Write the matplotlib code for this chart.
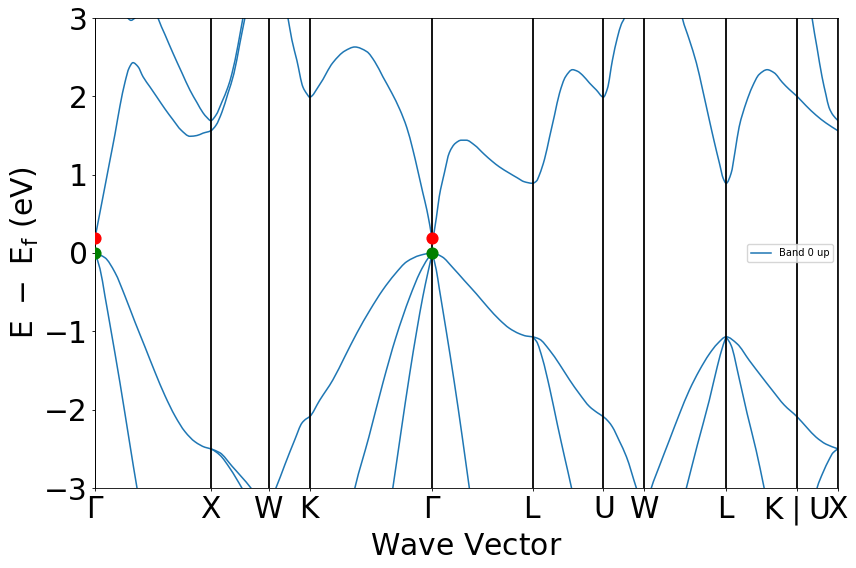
import matplotlib
matplotlib.use("Agg")
import matplotlib.pyplot as plt
from matplotlib.path import Path
from matplotlib.patches import PathPatch
from matplotlib.lines import Line2D
import numpy as np

# ---- high-symmetry path (cumulative k distance, units of 2*pi/a) ----
tick_k = [0.0, 1.0, 1.5, 1.854, 2.914, 3.780, 4.392, 4.746, 5.453, 6.065, 6.419]
tick_labels = [r"$\mathrm{\Gamma}$", r"$\mathrm{X}$", r"$\mathrm{W}$", r"$\mathrm{K}$",
               r"$\mathrm{\Gamma}$", r"$\mathrm{L}$", r"$\mathrm{U}$", r"$\mathrm{W}$",
               r"$\mathrm{L}$", r"$\mathrm{K}$$\mid$$\mathrm{U}$", r"$\mathrm{X}$"]

# ---- valence bands (k, E-Ef in eV) ----
vb_gx_k = [0.000, 0.086, 0.173, 0.259, 0.345, 0.432, 0.518, 0.604, 0.691, 0.777, 0.864, 0.950, 1.000,
           1.079, 1.166, 1.269, 1.382]
vb_gx_e = [0.00, -0.06, -0.25, -0.55, -0.88, -1.20, -1.52, -1.82, -2.08, -2.28, -2.41, -2.48, -2.50,
           -2.58, -2.75, -3.00, -3.30]
vb_xw_k = [1.000, 1.079, 1.183, 1.347, 1.442]
vb_xw_e = [-2.50, -2.55, -2.72, -3.00, -3.20]
vb_wkglu_k = [1.468, 1.563, 1.641, 1.727, 1.788, 1.822, 1.854, 1.941, 2.055, 2.159, 2.263, 2.375, 2.487,
              2.591, 2.694, 2.807, 2.914, 3.000, 3.087, 3.190, 3.294, 3.398, 3.493, 3.579, 3.665, 3.726,
              3.780, 3.840, 3.927, 4.013, 4.100, 4.186, 4.272, 4.341, 4.392, 4.435, 4.470, 4.530, 4.591,
              4.677, 4.746]
vb_wkglu_e = [-3.30, -3.00, -2.70, -2.38, -2.17, -2.12, -2.09, -1.88, -1.62, -1.32, -1.02, -0.73, -0.47,
              -0.27, -0.11, -0.03, 0.00, -0.05, -0.18, -0.35, -0.52, -0.70, -0.85, -0.96, -1.03, -1.06,
              -1.07, -1.10, -1.24, -1.42, -1.62, -1.80, -1.96, -2.04, -2.09, -2.15, -2.22, -2.40, -2.60,
              -3.00, -3.30]
vb_wlkx_k = [4.746, 4.806, 4.876, 4.962, 5.048, 5.135, 5.221, 5.307, 5.376, 5.453, 5.548, 5.652, 5.755,
             5.850, 5.954, 6.065, 6.151, 6.229, 6.315, 6.419]
vb_wlkx_e = [-3.35, -3.00, -2.72, -2.39, -2.06, -1.75, -1.50, -1.29, -1.16, -1.07, -1.16, -1.37, -1.57,
             -1.75, -1.94, -2.09, -2.23, -2.35, -2.44, -2.50]
lh_gx_k = [0.000, 0.043, 0.086, 0.130, 0.216, 0.302, 0.363, 0.406]
lh_gx_e = [0.00, -0.20, -0.55, -0.92, -1.66, -2.45, -3.00, -3.35]
lh_kg1_k = [2.202, 2.245, 2.366, 2.487, 2.599, 2.720, 2.807, 2.876, 2.914]
lh_kg1_e = [-3.30, -3.00, -2.35, -1.66, -1.08, -0.56, -0.25, -0.07, 0.00]
lh_kg2_k = [2.547, 2.573, 2.642, 2.720, 2.781, 2.832, 2.876, 2.914]
lh_kg2_e = [-3.25, -3.00, -2.30, -1.53, -0.98, -0.56, -0.25, 0.00]
lh_gl_k = [2.914, 2.949, 2.974, 3.035, 3.104, 3.173, 3.234, 3.268]
lh_gl_e = [0.00, -0.22, -0.45, -1.00, -1.65, -2.35, -3.00, -3.35]
lh_lu_k = [3.780, 3.815, 3.866, 3.927, 3.996, 4.056, 4.117, 4.151]
lh_lu_e = [-1.07, -1.13, -1.35, -1.72, -2.20, -2.60, -3.00, -3.25]
lh_wl_k = [5.074, 5.109, 5.204, 5.307, 5.376, 5.428, 5.453]
lh_wl_e = [-3.20, -3.00, -2.45, -1.88, -1.45, -1.17, -1.07]
lh_lk_k = [5.453, 5.496, 5.565, 5.634, 5.712, 5.781, 5.816]
lh_lk_e = [-1.07, -1.18, -1.60, -2.05, -2.52, -3.00, -3.25]
lh_ux_k = [6.203, 6.238, 6.290, 6.341, 6.376, 6.419]
lh_ux_e = [-3.25, -3.00, -2.80, -2.64, -2.55, -2.50]

# ---- conduction bands ----
cb_gx_k = [0.000, 0.043, 0.086, 0.130, 0.173, 0.216, 0.259, 0.294, 0.328, 0.371, 0.415, 0.475, 0.535,
           0.604, 0.674, 0.743, 0.820, 0.881, 0.933, 1.000, 1.045, 1.097, 1.149, 1.200, 1.252, 1.295, 1.339]
cb_gx_e = [0.19, 0.52, 0.85, 1.19, 1.52, 1.88, 2.18, 2.36, 2.43, 2.38, 2.25, 2.12, 1.99,
           1.84, 1.70, 1.57, 1.49, 1.50, 1.53, 1.56, 1.63, 1.80, 2.04, 2.29, 2.68, 3.00, 3.32]
cb2_gx_k = [0.475, 0.544, 0.604, 0.674, 0.751, 0.820, 0.881, 0.933, 0.967, 1.000, 1.045, 1.097, 1.149,
            1.183, 1.235, 1.278, 1.321]
cb2_gx_e = [3.35, 3.00, 2.79, 2.55, 2.30, 2.08, 1.92, 1.79, 1.73, 1.69, 1.76, 1.93, 2.12,
            2.29, 2.65, 3.00, 3.30]
cb3_gx_k = [0.216, 0.276, 0.311, 0.345, 0.389]
cb3_gx_e = [3.10, 3.01, 2.97, 3.00, 3.08]
cb_wkglu_k = [1.623, 1.667, 1.701, 1.744, 1.796, 1.831, 1.854, 1.941, 2.055, 2.159, 2.245, 2.349, 2.418,
              2.487, 2.565, 2.634, 2.694, 2.746, 2.789, 2.832, 2.867, 2.893, 2.914, 2.949, 2.974, 3.018,
              3.061, 3.113, 3.164, 3.208, 3.277, 3.363, 3.432, 3.493, 3.579, 3.648, 3.708, 3.780, 3.815,
              3.840, 3.884, 3.927, 3.970, 4.013, 4.065, 4.125, 4.169, 4.212, 4.272, 4.332, 4.392, 4.427,
              4.470, 4.513, 4.547, 4.573, 4.599]
cb_wkglu_e = [3.30, 3.00, 2.72, 2.46, 2.12, 2.03, 1.99, 2.15, 2.43, 2.58, 2.63, 2.57, 2.44,
              2.25, 2.04, 1.83, 1.60, 1.32, 1.05, 0.77, 0.55, 0.35, 0.19, 0.45, 0.72, 1.02,
              1.28, 1.40, 1.44, 1.44, 1.38, 1.26, 1.17, 1.10, 1.02, 0.96, 0.91, 0.89, 0.92,
              1.00, 1.20, 1.48, 1.76, 2.04, 2.25, 2.34, 2.32, 2.27, 2.17, 2.08, 1.99, 2.10,
              2.46, 2.75, 2.92, 3.00, 3.20]
cb_wlkx_k = [5.048, 5.074, 5.135, 5.195, 5.247, 5.307, 5.350, 5.394, 5.428, 5.453, 5.496, 5.530, 5.565,
             5.626, 5.678, 5.738, 5.807, 5.868, 5.937, 5.997, 6.065, 6.143, 6.229, 6.315, 6.419]
cb_wlkx_e = [3.20, 3.00, 2.72, 2.43, 2.10, 1.70, 1.42, 1.15, 0.95, 0.89, 1.02, 1.30, 1.61,
             1.92, 2.12, 2.28, 2.34, 2.30, 2.18, 2.09, 2.00, 1.88, 1.76, 1.66, 1.56]
cb2_ux_k = [6.169, 6.195, 6.238, 6.281, 6.315, 6.341, 6.376, 6.419]
cb2_ux_e = [3.30, 3.00, 2.62, 2.25, 2.02, 1.86, 1.76, 1.69]

# band extrema markers
cbm_k = [0.0, 2.914]
cbm_e = [0.19, 0.19]
vbm_k = [0.0, 2.914]
vbm_e = [0.0, 0.0]

bands = [(vb_gx_k, vb_gx_e), (vb_xw_k, vb_xw_e), (vb_wkglu_k, vb_wkglu_e), (vb_wlkx_k, vb_wlkx_e),
         (lh_gx_k, lh_gx_e), (lh_kg1_k, lh_kg1_e), (lh_kg2_k, lh_kg2_e), (lh_gl_k, lh_gl_e),
         (lh_lu_k, lh_lu_e), (lh_wl_k, lh_wl_e), (lh_lk_k, lh_lk_e), (lh_ux_k, lh_ux_e),
         (cb_gx_k, cb_gx_e), (cb2_gx_k, cb2_gx_e), (cb3_gx_k, cb3_gx_e), (cb_wkglu_k, cb_wkglu_e),
         (cb_wlkx_k, cb_wlkx_e), (cb2_ux_k, cb2_ux_e)]


def smooth_path(k, e):
    """Bezier path through the read points (monotone cubic tangents)."""
    k = np.asarray(k, float)
    e = np.asarray(e, float)
    h = np.diff(k)
    d = np.diff(e) / h
    n = len(k)
    m = np.zeros(n)
    m[0], m[-1] = d[0], d[-1]
    for i in range(1, n - 1):
        if d[i - 1] * d[i] > 0:
            w1 = 2 * h[i] + h[i - 1]
            w2 = h[i] + 2 * h[i - 1]
            m[i] = (w1 + w2) / (w1 / d[i - 1] + w2 / d[i])
    verts = [(k[0], e[0])]
    codes = [Path.MOVETO]
    for i in range(n - 1):
        verts += [(k[i] + h[i] / 3, e[i] + m[i] * h[i] / 3),
                  (k[i + 1] - h[i] / 3, e[i + 1] - m[i + 1] * h[i] / 3),
                  (k[i + 1], e[i + 1])]
        codes += [Path.CURVE4] * 3
    return Path(verts, codes)


fs = 21.4
band_color = "#1f77b4"
fig = plt.figure(figsize=(8.56, 5.68), dpi=100)
ax = fig.add_axes([95 / 856, 80 / 568, 743 / 856, 470 / 568])

for k, e in bands:
    ax.add_patch(PathPatch(smooth_path(k, e), facecolor="none", edgecolor=band_color,
                           lw=1.1, joinstyle="round", capstyle="round"))

for t in tick_k:
    ax.axvline(t, color="k", lw=1.3)

ax.scatter(cbm_k, cbm_e, s=60, color="r", zorder=5)
ax.scatter(vbm_k, vbm_e, s=60, color="g", zorder=5)

ax.set_xlim(tick_k[0], tick_k[-1])
ax.set_ylim(-3, 3)
ax.set_xticks(tick_k)
ax.set_xticklabels(tick_labels)
ax.set_yticks([-3, -2, -1, 0, 1, 2, 3])
ax.tick_params(labelsize=fs, length=2.5, width=0.6, pad=2.5)
ax.set_xlabel(r"$\mathrm{Wave\ Vector}$", fontsize=fs, labelpad=2.5)
ax.set_ylabel(r"$\mathrm{E\ -\ E_f\ (eV)}$", fontsize=fs, labelpad=2.5)
for s in ax.spines.values():
    s.set_linewidth(0.6)
handle = Line2D([], [], color=band_color, lw=1.1)
ax.legend([handle], ["Band 0 up"], loc="center right", fontsize=7.1, borderaxespad=0.5)

fig.savefig("out.png", dpi=100)
